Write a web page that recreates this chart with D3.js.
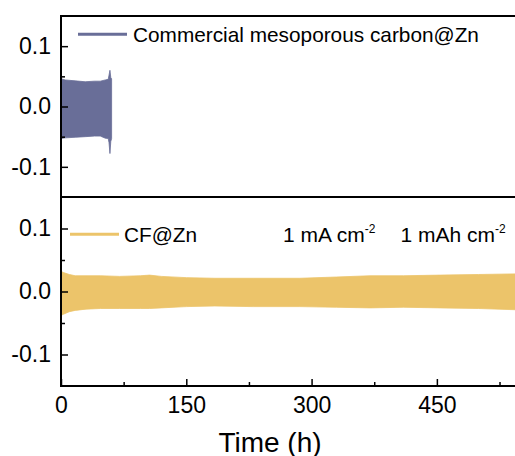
<!DOCTYPE html>
<html><head><meta charset="utf-8">
<script src="https://cdn.jsdelivr.net/npm/d3@7"></script>
<style>body{margin:0;background:#fff}svg{display:block;font-family:"Liberation Sans",Arial,sans-serif}</style>
</head><body>
<svg id="c" width="515" height="456"></svg>
<script>
// ---- data (envelopes of the voltage oscillation, V) ----
const topTime  = [0, 5, 17, 29, 40, 47, 53, 56.5, 57.5, 58.6, 59.6, 60.6];
const topUpper = [0.046, 0.044, 0.0425, 0.041, 0.042, 0.042, 0.044, 0.045, 0.052, 0.060, 0.048, 0.046];
const topLower = [-0.053, -0.052, -0.051, -0.050, -0.049, -0.049, -0.0525, -0.053, -0.060, -0.078, -0.058, -0.053];

const botTime  = [0, 3, 10, 17, 30, 47, 70, 95, 106, 120, 150, 184, 230, 286, 330, 370, 410, 454, 500, 545, 550];
const botUpper = [0.032, 0.030, 0.027, 0.025, 0.025, 0.025, 0.024, 0.025, 0.026, 0.024, 0.022, 0.021, 0.021, 0.021, 0.023, 0.025, 0.025, 0.026, 0.027, 0.028, 0.028];
const botLower = [-0.038, -0.036, -0.032, -0.030, -0.028, -0.027, -0.027, -0.027, -0.027, -0.026, -0.024, -0.023, -0.024, -0.024, -0.025, -0.026, -0.025, -0.026, -0.027, -0.029, -0.029];

const xTicks = [0, 150, 300, 450];
const xMinor = [75, 225, 375, 525];
const yTicks = [-0.1, 0.0, 0.1];
const yMinor = [-0.05, 0.05];
const seriesNames = ["Commercial mesoporous carbon@Zn", "CF@Zn"];
const colors = ["#696e98", "#ecc46a"];

const svg = d3.select("#c");
const x = d3.scaleLinear().domain([0, 550]).range([61, 520.4]);
const yT = d3.scaleLinear().domain([-0.15, 0.15]).range([197, 16]);
const yB = d3.scaleLinear().domain([-0.15, 0.15]).range([386, 197]);

svg.append("clipPath").attr("id","cp").append("rect").attr("x",61).attr("y",16).attr("width",460).attr("height",370);

function band(t, up, lo, y, col){
  const d = t.map((v,i)=>({t:v,u:up[i],l:lo[i]}));
  svg.append("path").attr("clip-path","url(#cp)")
    .attr("d", d3.area().x(p=>x(p.t)).y0(p=>y(p.l)).y1(p=>y(p.u))(d))
    .attr("fill", col).attr("stroke", col).attr("stroke-width", 0.8);
}
band(topTime, topUpper, topLower, yT, colors[0]);
band(botTime, botUpper, botLower, yB, colors[1]);

const FF = "Liberation Sans, Arial, sans-serif";
const fmt = d => d === 0 ? "0.0" : d3.format(".1f")(d).replace("−","-");
function yAxis(y){
  svg.append("g").attr("transform","translate(61,0)")
    .call(d3.axisLeft(y).tickValues(yTicks).tickSize(-7).tickPadding(10).tickFormat(fmt))
    .call(g=>{g.select(".domain").remove();
      g.selectAll("line").attr("stroke","#000").attr("stroke-width",1.5);
      g.selectAll("text").attr("font-size",23).attr("fill","#000").attr("font-family",FF);});
  svg.append("g").attr("transform","translate(61,0)")
    .call(d3.axisLeft(y).tickValues(yMinor).tickSize(-4).tickFormat(""))
    .call(g=>{g.select(".domain").remove(); g.selectAll("line").attr("stroke","#000").attr("stroke-width",1.5);});
}
yAxis(yT); yAxis(yB);

svg.append("g").attr("transform","translate(0,386)")
  .call(d3.axisBottom(x).tickValues(xTicks).tickSize(-7).tickPadding(10))
  .call(g=>{g.select(".domain").remove();
    g.selectAll("line").attr("stroke","#000").attr("stroke-width",1.5);
    g.selectAll("text").attr("font-size",23).attr("fill","#000").attr("font-family",FF).attr("dy","0.72em");});
svg.append("g").attr("transform","translate(0,386)")
  .call(d3.axisBottom(x).tickValues(xMinor).tickSize(-4).tickFormat(""))
  .call(g=>{g.select(".domain").remove(); g.selectAll("line").attr("stroke","#000").attr("stroke-width",1.5);});

// frame lines
const ln = (x1,y1,x2,y2)=>svg.append("line").attr("x1",x1).attr("y1",y1).attr("x2",x2).attr("y2",y2).attr("stroke","#000").attr("stroke-width",2);
ln(61,16,61,386); ln(60,16,515,16); ln(60,197,515,197); ln(60,386,515,386);

// legends
svg.append("line").attr("x1",78).attr("x2",127).attr("y1",34.3).attr("y2",34.3).attr("stroke",colors[0]).attr("stroke-width",3);
svg.append("text").attr("x",133).attr("y",42).attr("font-size",20.8).text(seriesNames[0]);
svg.append("line").attr("x1",70).attr("x2",119).attr("y1",234.3).attr("y2",234.3).attr("stroke",colors[1]).attr("stroke-width",3);
svg.append("text").attr("x",124).attr("y",242).attr("font-size",20.8).text(seriesNames[1]);

// annotation
const a = svg.append("text").attr("x",283).attr("y",242.3).attr("font-size",21);
a.append("tspan").text("1 mA cm");
a.append("tspan").attr("font-size",12).attr("dy",-9).text("-2");
const b = svg.append("text").attr("x",400.5).attr("y",242.3).attr("font-size",21);
b.append("tspan").text("1 mAh cm");
b.append("tspan").attr("font-size",12).attr("dy",-9).text("-2");

svg.append("text").attr("x",270).attr("y",451.5).attr("text-anchor","middle").attr("font-size",28).text("Time (h)");
</script>
</body></html>
